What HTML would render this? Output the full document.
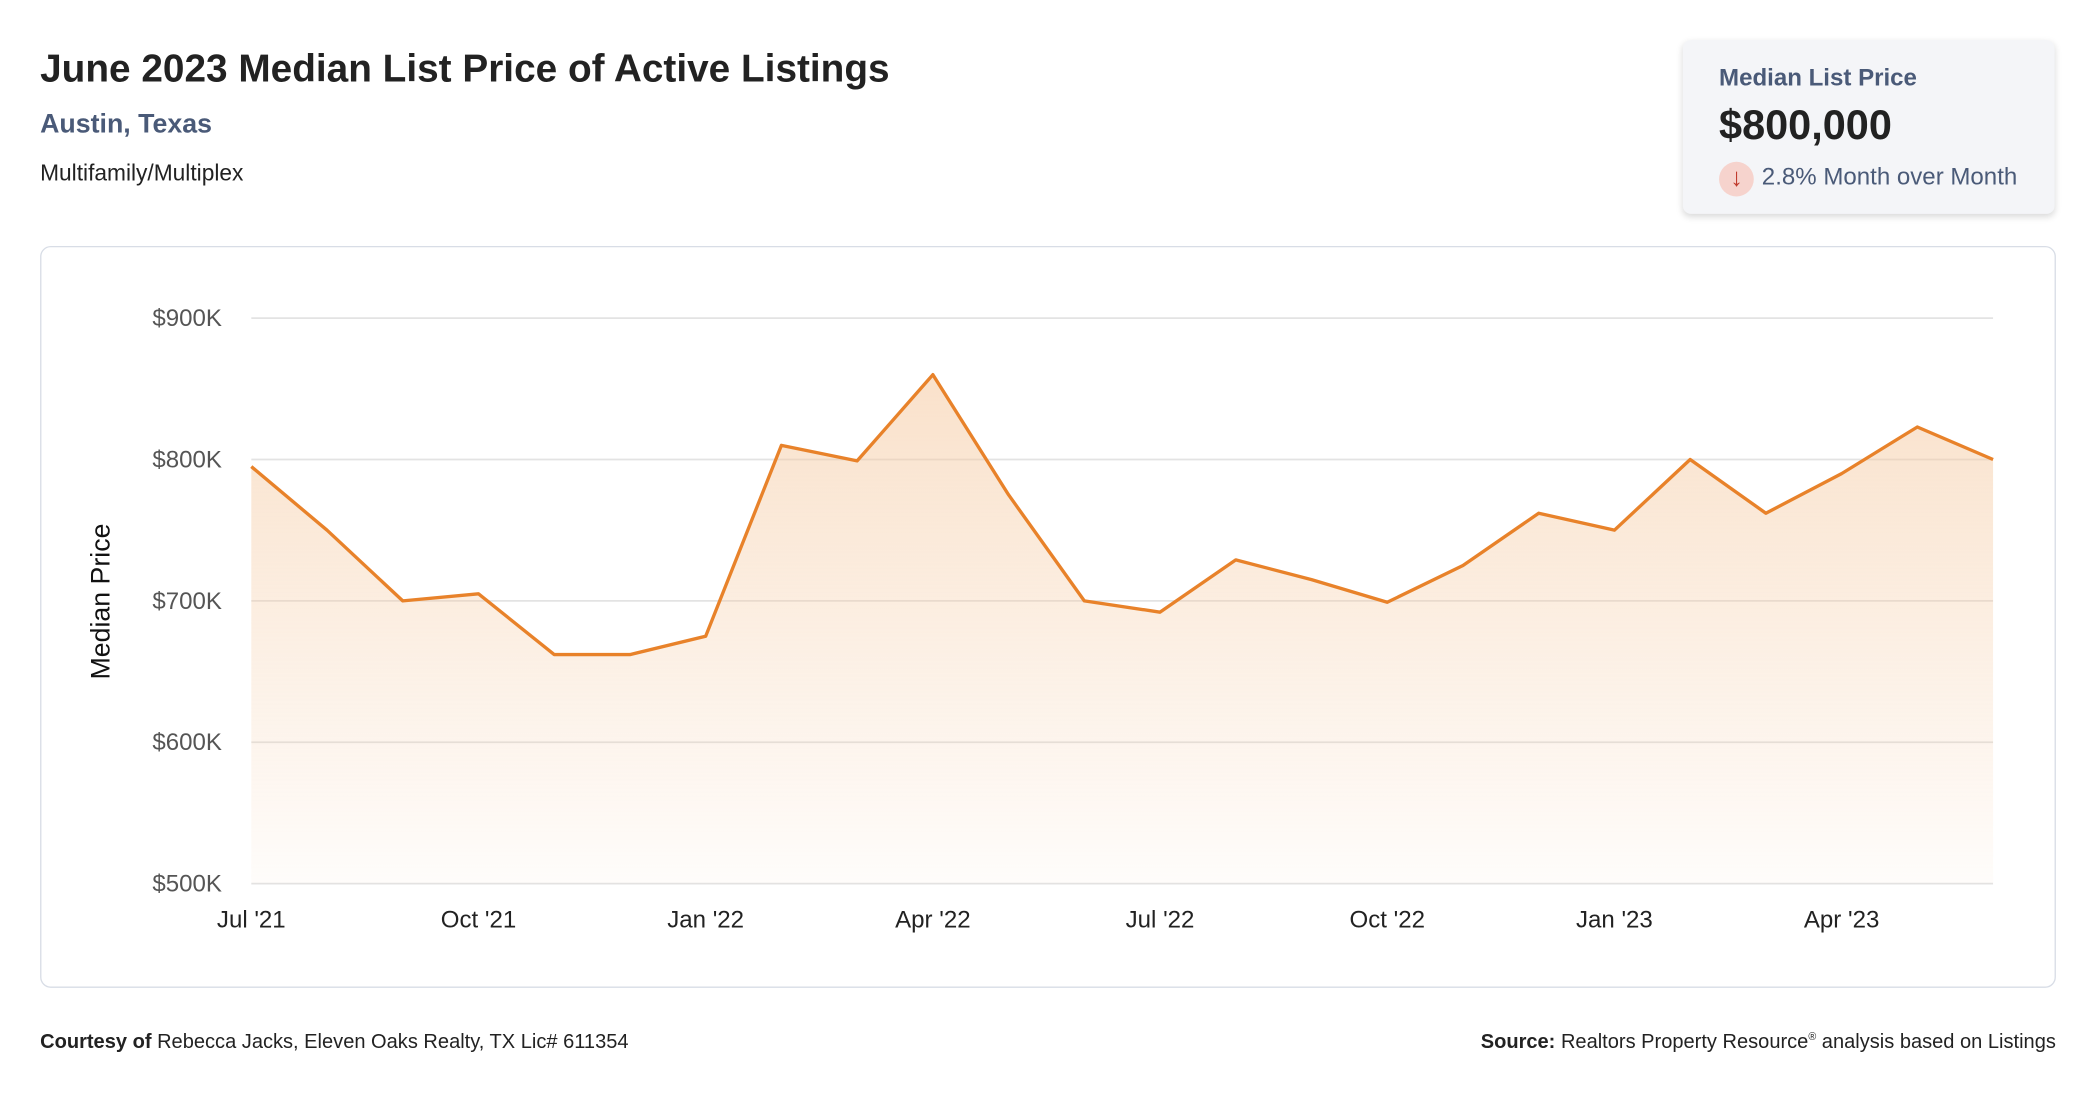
<!DOCTYPE html>
<html><head><meta charset="utf-8"><style>
html,body{margin:0;padding:0;background:#fff;width:2096px;height:1100px;overflow:hidden}
#wrap{position:absolute;left:0;top:0;width:1568px;height:823px;transform:scale(1.33673);transform-origin:0 0;font-family:"Liberation Sans",sans-serif}
.t{position:absolute;white-space:nowrap}
</style></head><body>
<div id="wrap">
<div class="t" style="left:30px;top:36px;font-size:29px;font-weight:bold;color:#222">June 2023 Median List Price of Active Listings</div>
<div class="t" style="left:30px;top:82px;font-size:20px;font-weight:bold;color:#4a5a78">Austin, Texas</div>
<div class="t" style="left:30px;top:120px;font-size:17px;color:#222">Multifamily/Multiplex</div>
<div style="position:absolute;left:1259px;top:30px;width:278px;height:130px;background:#f4f5f8;border-radius:6px;box-shadow:0 2px 5px rgba(0,0,0,0.15)">
 <div class="t" style="left:27px;top:18px;font-size:18px;font-weight:bold;color:#4a5a78">Median List Price</div>
 <div class="t" style="left:27px;top:46px;font-size:31px;font-weight:bold;color:#222">$800,000</div>
 <div style="position:absolute;left:27px;top:91px;width:26px;height:26px;border-radius:13px;background:#f6d3cd;color:#c0392b;font-size:19px;text-align:center;line-height:26px">↓</div>
 <div class="t" style="left:59px;top:92px;font-size:18px;color:#4a5a78">2.8% Month over Month</div>
</div>
<div style="position:absolute;left:30px;top:184px;width:1506px;height:553px;border:1px solid #d8dde6;border-radius:8px"></div>
<svg id="chart" width="1568" height="823" style="position:absolute;left:0;top:0">
<defs><linearGradient id="g" x1="0" y1="0" x2="0" y2="1"><stop offset="0" stop-color="#f5c9a0" stop-opacity="0.55"/><stop offset="1" stop-color="#f5c9a0" stop-opacity="0.05"/></linearGradient></defs>
<g id="grid"></g><path id="area" fill="url(#g)"/><path id="line" fill="none" stroke="#e8822a" stroke-width="2.5" stroke-linejoin="round"/><g id="labels"></g>
<text x="82" y="450" transform="rotate(-90 82 450)" text-anchor="middle" font-size="20" fill="#111" font-family="Liberation Sans">Median Price</text>
</svg>
<div class="t" style="left:30px;top:771px;font-size:15px;color:#222"><b>Courtesy of</b> Rebecca Jacks, Eleven Oaks Realty, TX Lic# 611354</div>
<div class="t" style="right:30px;top:771px;font-size:15px;color:#222"><b>Source:</b> Realtors Property Resource<sup style="font-size:8px">®</sup> analysis based on Listings</div>
</div>
<script>
const values=[795,750,700,705,662,662,675,810,799,860,775,700,692,729,715,699,725,762,750,800,762,790,823,800];
const yTicks=[500,600,700,800,900];
const xTickLabels=["Jul '21","Oct '21","Jan '22","Apr '22","Jul '22","Oct '22","Jan '23","Apr '23"];
const xTickIdx=[0,3,6,9,12,15,18,21];
const NS="http://www.w3.org/2000/svg";
const x0=188,x1=1491,yTop=238,yBot=661;
const X=i=>x0+(x1-x0)*i/(values.length-1);
const Y=v=>yBot-(v-500)/(900-500)*(yBot-yTop);
function mk(tag,attrs,parent,txt){const e=document.createElementNS(NS,tag);for(const k in attrs)e.setAttribute(k,attrs[k]);if(txt)e.textContent=txt;parent.appendChild(e);return e;}
const grid=document.getElementById('grid'),labels=document.getElementById('labels');
yTicks.forEach(t=>{
 const l=mk('line',{x1:x0,x2:x1,y1:Y(t),y2:Y(t),stroke:'#e3e3e3','stroke-width':1.3},grid);
 
 
 const tx=mk('text',{x:166,y:Y(t)+6,'text-anchor':'end','font-size':18,fill:'#555','font-family':'Liberation Sans'},labels,'$'+t+'K');
 
 
});
xTickIdx.forEach((i,k)=>{
 const tx=mk('text',{x:X(i),y:694,'text-anchor':'middle','font-size':18,fill:'#222','font-family':'Liberation Sans'},labels,xTickLabels[k]);
 
 
});
let d=values.map((v,i)=>(i?'L':'M')+X(i)+' '+Y(v)).join(' ');
document.getElementById('line').setAttribute('d',d);
document.getElementById('area').setAttribute('d',d+' L'+X(values.length-1)+' '+yBot+' L'+x0+' '+yBot+' Z');
</script>
</body></html>
